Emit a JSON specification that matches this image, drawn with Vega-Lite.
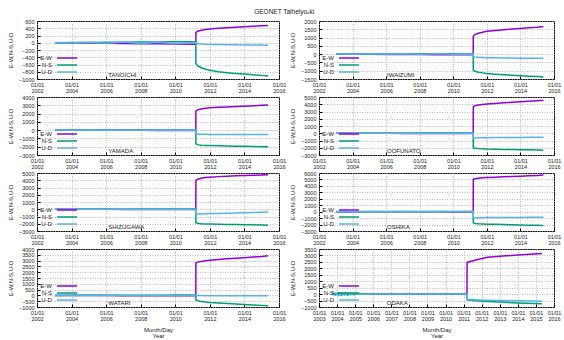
{
"$schema": "https://vega.github.io/schema/vega-lite/v6.json",
"padding": {"left": 7, "top": 9, "right": 0, "bottom": 0},
"title": {"text": "GEONET Taiheiyoₒki", "fontSize": 6.5, "fontWeight": "normal", "color": "#222", "offset": 3, "anchor": "middle"},
"datasets": {"gps": [
{"s":"TANOICHI","d":"2003-01-15","E-W":0,"N-S":0,"U-D":10},
{"s":"TANOICHI","d":"2004-01-01","E-W":-5,"N-S":5,"U-D":-10},
{"s":"TANOICHI","d":"2005-01-01","E-W":-10,"N-S":8,"U-D":15},
{"s":"TANOICHI","d":"2006-01-01","E-W":-15,"N-S":12,"U-D":-15},
{"s":"TANOICHI","d":"2007-01-01","E-W":-20,"N-S":15,"U-D":20},
{"s":"TANOICHI","d":"2008-01-01","E-W":-25,"N-S":18,"U-D":-20},
{"s":"TANOICHI","d":"2009-01-01","E-W":-30,"N-S":22,"U-D":15},
{"s":"TANOICHI","d":"2010-01-01","E-W":-35,"N-S":25,"U-D":-20},
{"s":"TANOICHI","d":"2011-03-10","E-W":-40,"N-S":28,"U-D":10},
{"s":"TANOICHI","d":"2011-03-12","E-W":280,"N-S":-570,"U-D":-20},
{"s":"TANOICHI","d":"2011-04-15","E-W":320,"N-S":-630,"U-D":-30},
{"s":"TANOICHI","d":"2011-07-01","E-W":345,"N-S":-690,"U-D":-35},
{"s":"TANOICHI","d":"2011-10-01","E-W":365,"N-S":-730,"U-D":-40},
{"s":"TANOICHI","d":"2012-01-01","E-W":380,"N-S":-760,"U-D":-45},
{"s":"TANOICHI","d":"2012-07-01","E-W":400,"N-S":-800,"U-D":-50},
{"s":"TANOICHI","d":"2013-01-01","E-W":415,"N-S":-825,"U-D":-55},
{"s":"TANOICHI","d":"2013-07-01","E-W":428,"N-S":-845,"U-D":-58},
{"s":"TANOICHI","d":"2014-01-01","E-W":440,"N-S":-865,"U-D":-60},
{"s":"TANOICHI","d":"2014-07-01","E-W":455,"N-S":-885,"U-D":-62},
{"s":"TANOICHI","d":"2015-01-01","E-W":468,"N-S":-900,"U-D":-65},
{"s":"TANOICHI","d":"2015-05-15","E-W":478,"N-S":-915,"U-D":-68},
{"s":"IWAIZUMI","d":"2003-01-15","E-W":0,"N-S":0,"U-D":20},
{"s":"IWAIZUMI","d":"2004-01-01","E-W":-5,"N-S":4,"U-D":0},
{"s":"IWAIZUMI","d":"2005-01-01","E-W":-10,"N-S":8,"U-D":25},
{"s":"IWAIZUMI","d":"2006-01-01","E-W":-15,"N-S":12,"U-D":0},
{"s":"IWAIZUMI","d":"2007-01-01","E-W":-20,"N-S":15,"U-D":25},
{"s":"IWAIZUMI","d":"2008-01-01","E-W":-25,"N-S":18,"U-D":0},
{"s":"IWAIZUMI","d":"2009-01-01","E-W":-30,"N-S":22,"U-D":20},
{"s":"IWAIZUMI","d":"2010-01-01","E-W":-35,"N-S":25,"U-D":0},
{"s":"IWAIZUMI","d":"2011-03-10","E-W":-40,"N-S":28,"U-D":15},
{"s":"IWAIZUMI","d":"2011-03-12","E-W":1080,"N-S":-960,"U-D":-150},
{"s":"IWAIZUMI","d":"2011-04-15","E-W":1180,"N-S":-1030,"U-D":-170},
{"s":"IWAIZUMI","d":"2011-07-01","E-W":1260,"N-S":-1090,"U-D":-190},
{"s":"IWAIZUMI","d":"2011-10-01","E-W":1320,"N-S":-1130,"U-D":-205},
{"s":"IWAIZUMI","d":"2012-01-01","E-W":1380,"N-S":-1170,"U-D":-215},
{"s":"IWAIZUMI","d":"2012-07-01","E-W":1430,"N-S":-1210,"U-D":-225},
{"s":"IWAIZUMI","d":"2013-01-01","E-W":1470,"N-S":-1240,"U-D":-232},
{"s":"IWAIZUMI","d":"2013-07-01","E-W":1510,"N-S":-1270,"U-D":-238},
{"s":"IWAIZUMI","d":"2014-01-01","E-W":1550,"N-S":-1300,"U-D":-242},
{"s":"IWAIZUMI","d":"2014-07-01","E-W":1590,"N-S":-1330,"U-D":-246},
{"s":"IWAIZUMI","d":"2015-01-01","E-W":1630,"N-S":-1355,"U-D":-250},
{"s":"IWAIZUMI","d":"2015-05-15","E-W":1670,"N-S":-1380,"U-D":-252},
{"s":"YAMADA","d":"2003-01-15","E-W":0,"N-S":0,"U-D":15},
{"s":"YAMADA","d":"2004-01-01","E-W":-5,"N-S":4,"U-D":-15},
{"s":"YAMADA","d":"2005-01-01","E-W":-10,"N-S":8,"U-D":15},
{"s":"YAMADA","d":"2006-01-01","E-W":-15,"N-S":12,"U-D":-15},
{"s":"YAMADA","d":"2007-01-01","E-W":-20,"N-S":15,"U-D":15},
{"s":"YAMADA","d":"2008-01-01","E-W":-25,"N-S":18,"U-D":-15},
{"s":"YAMADA","d":"2009-01-01","E-W":-30,"N-S":22,"U-D":15},
{"s":"YAMADA","d":"2010-01-01","E-W":-35,"N-S":25,"U-D":-15},
{"s":"YAMADA","d":"2011-03-10","E-W":-40,"N-S":28,"U-D":10},
{"s":"YAMADA","d":"2011-03-12","E-W":2300,"N-S":-1650,"U-D":-480},
{"s":"YAMADA","d":"2011-04-15","E-W":2450,"N-S":-1750,"U-D":-495},
{"s":"YAMADA","d":"2011-07-01","E-W":2560,"N-S":-1810,"U-D":-505},
{"s":"YAMADA","d":"2011-10-01","E-W":2630,"N-S":-1840,"U-D":-510},
{"s":"YAMADA","d":"2012-01-01","E-W":2690,"N-S":-1860,"U-D":-515},
{"s":"YAMADA","d":"2012-07-01","E-W":2750,"N-S":-1890,"U-D":-515},
{"s":"YAMADA","d":"2013-01-01","E-W":2800,"N-S":-1910,"U-D":-515},
{"s":"YAMADA","d":"2013-07-01","E-W":2850,"N-S":-1930,"U-D":-515},
{"s":"YAMADA","d":"2014-01-01","E-W":2890,"N-S":-1950,"U-D":-515},
{"s":"YAMADA","d":"2014-07-01","E-W":2940,"N-S":-1970,"U-D":-515},
{"s":"YAMADA","d":"2015-01-01","E-W":2990,"N-S":-1990,"U-D":-515},
{"s":"YAMADA","d":"2015-05-15","E-W":3040,"N-S":-2000,"U-D":-515},
{"s":"OOFUNATO","d":"2003-01-15","E-W":0,"N-S":0,"U-D":15},
{"s":"OOFUNATO","d":"2004-01-01","E-W":-5,"N-S":4,"U-D":-15},
{"s":"OOFUNATO","d":"2005-01-01","E-W":-10,"N-S":8,"U-D":15},
{"s":"OOFUNATO","d":"2006-01-01","E-W":-15,"N-S":12,"U-D":-15},
{"s":"OOFUNATO","d":"2007-01-01","E-W":-20,"N-S":15,"U-D":15},
{"s":"OOFUNATO","d":"2008-01-01","E-W":-25,"N-S":18,"U-D":-15},
{"s":"OOFUNATO","d":"2009-01-01","E-W":-30,"N-S":22,"U-D":15},
{"s":"OOFUNATO","d":"2010-01-01","E-W":-35,"N-S":25,"U-D":-15},
{"s":"OOFUNATO","d":"2011-03-10","E-W":-40,"N-S":28,"U-D":10},
{"s":"OOFUNATO","d":"2011-03-12","E-W":3640,"N-S":-1980,"U-D":-650},
{"s":"OOFUNATO","d":"2011-04-15","E-W":3800,"N-S":-2060,"U-D":-640},
{"s":"OOFUNATO","d":"2011-07-01","E-W":3900,"N-S":-2110,"U-D":-630},
{"s":"OOFUNATO","d":"2011-10-01","E-W":3970,"N-S":-2140,"U-D":-620},
{"s":"OOFUNATO","d":"2012-01-01","E-W":4030,"N-S":-2170,"U-D":-610},
{"s":"OOFUNATO","d":"2012-07-01","E-W":4120,"N-S":-2200,"U-D":-600},
{"s":"OOFUNATO","d":"2013-01-01","E-W":4200,"N-S":-2230,"U-D":-590},
{"s":"OOFUNATO","d":"2013-07-01","E-W":4270,"N-S":-2250,"U-D":-580},
{"s":"OOFUNATO","d":"2014-01-01","E-W":4340,"N-S":-2270,"U-D":-570},
{"s":"OOFUNATO","d":"2014-07-01","E-W":4410,"N-S":-2290,"U-D":-560},
{"s":"OOFUNATO","d":"2015-01-01","E-W":4480,"N-S":-2320,"U-D":-550},
{"s":"OOFUNATO","d":"2015-05-15","E-W":4540,"N-S":-2340,"U-D":-540},
{"s":"SHIZUGAWA","d":"2003-01-15","E-W":0,"N-S":0,"U-D":15},
{"s":"SHIZUGAWA","d":"2004-01-01","E-W":-5,"N-S":4,"U-D":-15},
{"s":"SHIZUGAWA","d":"2005-01-01","E-W":-10,"N-S":8,"U-D":15},
{"s":"SHIZUGAWA","d":"2006-01-01","E-W":-15,"N-S":12,"U-D":-15},
{"s":"SHIZUGAWA","d":"2007-01-01","E-W":-20,"N-S":15,"U-D":15},
{"s":"SHIZUGAWA","d":"2008-01-01","E-W":-25,"N-S":18,"U-D":-15},
{"s":"SHIZUGAWA","d":"2009-01-01","E-W":-30,"N-S":22,"U-D":15},
{"s":"SHIZUGAWA","d":"2010-01-01","E-W":-35,"N-S":25,"U-D":-15},
{"s":"SHIZUGAWA","d":"2011-03-10","E-W":-40,"N-S":28,"U-D":10},
{"s":"SHIZUGAWA","d":"2011-03-12","E-W":3980,"N-S":-1860,"U-D":-680},
{"s":"SHIZUGAWA","d":"2011-04-15","E-W":4150,"N-S":-1940,"U-D":-660},
{"s":"SHIZUGAWA","d":"2011-07-01","E-W":4280,"N-S":-1990,"U-D":-640},
{"s":"SHIZUGAWA","d":"2011-10-01","E-W":4370,"N-S":-2020,"U-D":-620},
{"s":"SHIZUGAWA","d":"2012-01-01","E-W":4430,"N-S":-2040,"U-D":-600},
{"s":"SHIZUGAWA","d":"2012-07-01","E-W":4500,"N-S":-2070,"U-D":-570},
{"s":"SHIZUGAWA","d":"2013-01-01","E-W":4560,"N-S":-2090,"U-D":-540},
{"s":"SHIZUGAWA","d":"2013-07-01","E-W":4610,"N-S":-2110,"U-D":-510},
{"s":"SHIZUGAWA","d":"2014-01-01","E-W":4650,"N-S":-2130,"U-D":-480},
{"s":"SHIZUGAWA","d":"2014-07-01","E-W":4690,"N-S":-2150,"U-D":-440},
{"s":"SHIZUGAWA","d":"2015-01-01","E-W":4720,"N-S":-2180,"U-D":-400},
{"s":"SHIZUGAWA","d":"2015-05-15","E-W":4750,"N-S":-2200,"U-D":-370},
{"s":"OSHIKA","d":"2003-01-15","E-W":0,"N-S":0,"U-D":15},
{"s":"OSHIKA","d":"2004-01-01","E-W":-5,"N-S":4,"U-D":-15},
{"s":"OSHIKA","d":"2005-01-01","E-W":-10,"N-S":8,"U-D":15},
{"s":"OSHIKA","d":"2006-01-01","E-W":-15,"N-S":12,"U-D":-15},
{"s":"OSHIKA","d":"2007-01-01","E-W":-20,"N-S":15,"U-D":15},
{"s":"OSHIKA","d":"2008-01-01","E-W":-25,"N-S":18,"U-D":-15},
{"s":"OSHIKA","d":"2009-01-01","E-W":-30,"N-S":22,"U-D":15},
{"s":"OSHIKA","d":"2010-01-01","E-W":-35,"N-S":25,"U-D":-15},
{"s":"OSHIKA","d":"2011-03-10","E-W":-40,"N-S":28,"U-D":10},
{"s":"OSHIKA","d":"2011-03-12","E-W":5000,"N-S":-1730,"U-D":-1000},
{"s":"OSHIKA","d":"2011-04-15","E-W":5120,"N-S":-1820,"U-D":-980},
{"s":"OSHIKA","d":"2011-07-01","E-W":5200,"N-S":-1880,"U-D":-960},
{"s":"OSHIKA","d":"2011-10-01","E-W":5250,"N-S":-1910,"U-D":-940},
{"s":"OSHIKA","d":"2012-01-01","E-W":5290,"N-S":-1940,"U-D":-920},
{"s":"OSHIKA","d":"2012-07-01","E-W":5350,"N-S":-1970,"U-D":-905},
{"s":"OSHIKA","d":"2013-01-01","E-W":5410,"N-S":-2000,"U-D":-900},
{"s":"OSHIKA","d":"2013-07-01","E-W":5460,"N-S":-2030,"U-D":-895},
{"s":"OSHIKA","d":"2014-01-01","E-W":5510,"N-S":-2060,"U-D":-890},
{"s":"OSHIKA","d":"2014-07-01","E-W":5560,"N-S":-2090,"U-D":-885},
{"s":"OSHIKA","d":"2015-01-01","E-W":5620,"N-S":-2120,"U-D":-880},
{"s":"OSHIKA","d":"2015-05-15","E-W":5680,"N-S":-2140,"U-D":-880},
{"s":"WATARI","d":"2003-01-15","E-W":0,"N-S":0,"U-D":15},
{"s":"WATARI","d":"2004-01-01","E-W":-5,"N-S":4,"U-D":-15},
{"s":"WATARI","d":"2005-01-01","E-W":-10,"N-S":8,"U-D":15},
{"s":"WATARI","d":"2006-01-01","E-W":-15,"N-S":12,"U-D":-15},
{"s":"WATARI","d":"2007-01-01","E-W":-20,"N-S":15,"U-D":15},
{"s":"WATARI","d":"2008-01-01","E-W":-25,"N-S":18,"U-D":-15},
{"s":"WATARI","d":"2009-01-01","E-W":-30,"N-S":22,"U-D":15},
{"s":"WATARI","d":"2010-01-01","E-W":-35,"N-S":25,"U-D":-15},
{"s":"WATARI","d":"2011-03-10","E-W":-40,"N-S":28,"U-D":10},
{"s":"WATARI","d":"2011-03-12","E-W":2800,"N-S":-370,"U-D":0},
{"s":"WATARI","d":"2011-04-15","E-W":2870,"N-S":-450,"U-D":-10},
{"s":"WATARI","d":"2011-07-01","E-W":2930,"N-S":-520,"U-D":-15},
{"s":"WATARI","d":"2011-10-01","E-W":2980,"N-S":-570,"U-D":-20},
{"s":"WATARI","d":"2012-01-01","E-W":3030,"N-S":-610,"U-D":-20},
{"s":"WATARI","d":"2012-07-01","E-W":3090,"N-S":-660,"U-D":-22},
{"s":"WATARI","d":"2013-01-01","E-W":3150,"N-S":-700,"U-D":-22},
{"s":"WATARI","d":"2013-07-01","E-W":3200,"N-S":-740,"U-D":-24},
{"s":"WATARI","d":"2014-01-01","E-W":3250,"N-S":-780,"U-D":-24},
{"s":"WATARI","d":"2014-07-01","E-W":3300,"N-S":-820,"U-D":-25},
{"s":"WATARI","d":"2015-01-01","E-W":3360,"N-S":-860,"U-D":-25},
{"s":"WATARI","d":"2015-05-15","E-W":3420,"N-S":-890,"U-D":-25},
{"s":"ODAKA","d":"2003-10-01","E-W":40,"N-S":120,"U-D":-100},
{"s":"ODAKA","d":"2003-12-01","E-W":30,"N-S":-80,"U-D":90},
{"s":"ODAKA","d":"2004-02-01","E-W":40,"N-S":100,"U-D":-120},
{"s":"ODAKA","d":"2004-04-01","E-W":20,"N-S":-90,"U-D":80},
{"s":"ODAKA","d":"2004-06-01","E-W":30,"N-S":90,"U-D":-90},
{"s":"ODAKA","d":"2004-08-01","E-W":20,"N-S":-70,"U-D":100},
{"s":"ODAKA","d":"2004-10-01","E-W":30,"N-S":60,"U-D":-60},
{"s":"ODAKA","d":"2004-12-01","E-W":20,"N-S":-50,"U-D":50},
{"s":"ODAKA","d":"2005-03-01","E-W":10,"N-S":20,"U-D":-20},
{"s":"ODAKA","d":"2006-01-01","E-W":10,"N-S":10,"U-D":0},
{"s":"ODAKA","d":"2007-01-01","E-W":5,"N-S":0,"U-D":10},
{"s":"ODAKA","d":"2008-01-01","E-W":0,"N-S":-5,"U-D":0},
{"s":"ODAKA","d":"2009-01-01","E-W":-5,"N-S":0,"U-D":5},
{"s":"ODAKA","d":"2010-01-01","E-W":-10,"N-S":5,"U-D":0},
{"s":"ODAKA","d":"2011-03-10","E-W":-15,"N-S":10,"U-D":0},
{"s":"ODAKA","d":"2011-03-12","E-W":2460,"N-S":-450,"U-D":-400},
{"s":"ODAKA","d":"2011-09-01","E-W":2650,"N-S":-520,"U-D":-440},
{"s":"ODAKA","d":"2012-05-01","E-W":2860,"N-S":-580,"U-D":-470},
{"s":"ODAKA","d":"2013-01-01","E-W":2940,"N-S":-620,"U-D":-490},
{"s":"ODAKA","d":"2014-01-01","E-W":3040,"N-S":-680,"U-D":-520},
{"s":"ODAKA","d":"2015-05-01","E-W":3160,"N-S":-740,"U-D":-550}
]},
"concat": [
{"width": 242, "height": 58, "layer": [
 {"data": {"name": "gps"}, "transform": [{"filter": "datum.s === 'TANOICHI'"}, {"fold": ["E-W", "N-S", "U-D"], "as": ["comp", "val"]}],
  "mark": {"type": "line", "strokeWidth": 1.5},
  "encoding": {
   "x": {"field": "d", "type": "temporal", "scale": {"domain": ["2002-01-01", "2016-01-01"]}, "axis": {"tickCount": {"interval": "year", "step": 2}, "title": null}},
   "y": {"field": "val", "type": "quantitative", "scale": {"domain": [-1000, 600], "nice": false}, "axis": {"values": [-1000, -800, -600, -400, -200, 0, 200, 400, 600], "title": "E-W,N-S,U-D", "labelOverlap": false, "grid": true}},
   "color": {"field": "comp", "type": "nominal", "scale": {"domain": ["E-W", "N-S", "U-D"], "range": ["#9400D3", "#009E73", "#56B4E9"]}, "legend": {"title": null, "orient": "bottom-left", "symbolType": "M6.5,0H16.5"}}}},
 {"data": {"values": [{}]}, "mark": {"type": "text", "text": "TANOICHI"}, "encoding": {"x": {"datum": {"year": 2006, "month": 2, "date": 15}}, "y": {"datum": -1000, "axis": {"values": [-1000, -800, -600, -400, -200, 0, 200, 400, 600], "title": "E-W,N-S,U-D", "labelOverlap": false, "grid": true}}}}
]},
{"width": 235, "height": 58, "layer": [
 {"data": {"name": "gps"}, "transform": [{"filter": "datum.s === 'IWAIZUMI'"}, {"fold": ["E-W", "N-S", "U-D"], "as": ["comp", "val"]}],
  "mark": {"type": "line", "strokeWidth": 1.5},
  "encoding": {
   "x": {"field": "d", "type": "temporal", "scale": {"domain": ["2002-01-01", "2016-01-01"]}, "axis": {"tickCount": {"interval": "year", "step": 2}, "title": null}},
   "y": {"field": "val", "type": "quantitative", "scale": {"domain": [-1500, 2000], "nice": false}, "axis": {"values": [-1500, -1000, -500, 0, 500, 1000, 1500, 2000], "title": "E-W,N-S,U-D", "labelOverlap": false, "grid": true}},
   "color": {"field": "comp", "type": "nominal", "scale": {"domain": ["E-W", "N-S", "U-D"], "range": ["#9400D3", "#009E73", "#56B4E9"]}, "legend": {"title": null, "orient": "bottom-left", "symbolType": "M6.5,0H16.5"}}}},
 {"data": {"values": [{}]}, "mark": {"type": "text", "text": "IWAIZUMI"}, "encoding": {"x": {"datum": {"year": 2006, "month": 1, "date": 20}}, "y": {"datum": -1500, "axis": {"values": [-1500, -1000, -500, 0, 500, 1000, 1500, 2000], "title": "E-W,N-S,U-D", "labelOverlap": false, "grid": true}}}}
]},
{"width": 242, "height": 58, "layer": [
 {"data": {"name": "gps"}, "transform": [{"filter": "datum.s === 'YAMADA'"}, {"fold": ["E-W", "N-S", "U-D"], "as": ["comp", "val"]}],
  "mark": {"type": "line", "strokeWidth": 1.5},
  "encoding": {
   "x": {"field": "d", "type": "temporal", "scale": {"domain": ["2002-01-01", "2016-01-01"]}, "axis": {"tickCount": {"interval": "year", "step": 2}, "title": null}},
   "y": {"field": "val", "type": "quantitative", "scale": {"domain": [-3000, 4000], "nice": false}, "axis": {"values": [-3000, -2000, -1000, 0, 1000, 2000, 3000, 4000], "title": "E-W,N-S,U-D", "labelOverlap": false, "grid": true}},
   "color": {"field": "comp", "type": "nominal", "scale": {"domain": ["E-W", "N-S", "U-D"], "range": ["#9400D3", "#009E73", "#56B4E9"]}, "legend": {"title": null, "orient": "bottom-left", "symbolType": "M6.5,0H16.5"}}}},
 {"data": {"values": [{}]}, "mark": {"type": "text", "text": "YAMADA"}, "encoding": {"x": {"datum": {"year": 2006, "month": 2, "date": 15}}, "y": {"datum": -3000, "axis": {"values": [-3000, -2000, -1000, 0, 1000, 2000, 3000, 4000], "title": "E-W,N-S,U-D", "labelOverlap": false, "grid": true}}}}
]},
{"width": 235, "height": 58, "layer": [
 {"data": {"name": "gps"}, "transform": [{"filter": "datum.s === 'OOFUNATO'"}, {"fold": ["E-W", "N-S", "U-D"], "as": ["comp", "val"]}],
  "mark": {"type": "line", "strokeWidth": 1.5},
  "encoding": {
   "x": {"field": "d", "type": "temporal", "scale": {"domain": ["2002-01-01", "2016-01-01"]}, "axis": {"tickCount": {"interval": "year", "step": 2}, "title": null}},
   "y": {"field": "val", "type": "quantitative", "scale": {"domain": [-3000, 5000], "nice": false}, "axis": {"values": [-3000, -2000, -1000, 0, 1000, 2000, 3000, 4000, 5000], "title": "E-W,N-S,U-D", "labelOverlap": false, "grid": true}},
   "color": {"field": "comp", "type": "nominal", "scale": {"domain": ["E-W", "N-S", "U-D"], "range": ["#9400D3", "#009E73", "#56B4E9"]}, "legend": {"title": null, "orient": "bottom-left", "symbolType": "M6.5,0H16.5"}}}},
 {"data": {"values": [{}]}, "mark": {"type": "text", "text": "OOFUNATO"}, "encoding": {"x": {"datum": {"year": 2006, "month": 1, "date": 20}}, "y": {"datum": -3000, "axis": {"values": [-3000, -2000, -1000, 0, 1000, 2000, 3000, 4000, 5000], "title": "E-W,N-S,U-D", "labelOverlap": false, "grid": true}}}}
]},
{"width": 242, "height": 58, "layer": [
 {"data": {"name": "gps"}, "transform": [{"filter": "datum.s === 'SHIZUGAWA'"}, {"fold": ["E-W", "N-S", "U-D"], "as": ["comp", "val"]}],
  "mark": {"type": "line", "strokeWidth": 1.5},
  "encoding": {
   "x": {"field": "d", "type": "temporal", "scale": {"domain": ["2002-01-01", "2016-01-01"]}, "axis": {"tickCount": {"interval": "year", "step": 2}, "title": null}},
   "y": {"field": "val", "type": "quantitative", "scale": {"domain": [-3000, 5000], "nice": false}, "axis": {"values": [-3000, -2000, -1000, 0, 1000, 2000, 3000, 4000, 5000], "title": "E-W,N-S,U-D", "labelOverlap": false, "grid": true}},
   "color": {"field": "comp", "type": "nominal", "scale": {"domain": ["E-W", "N-S", "U-D"], "range": ["#9400D3", "#009E73", "#56B4E9"]}, "legend": {"title": null, "orient": "bottom-left", "symbolType": "M6.5,0H16.5"}}}},
 {"data": {"values": [{}]}, "mark": {"type": "text", "text": "SHIZUGAWA"}, "encoding": {"x": {"datum": {"year": 2006, "month": 2, "date": 15}}, "y": {"datum": -3000, "axis": {"values": [-3000, -2000, -1000, 0, 1000, 2000, 3000, 4000, 5000], "title": "E-W,N-S,U-D", "labelOverlap": false, "grid": true}}}}
]},
{"width": 235, "height": 58, "layer": [
 {"data": {"name": "gps"}, "transform": [{"filter": "datum.s === 'OSHIKA'"}, {"fold": ["E-W", "N-S", "U-D"], "as": ["comp", "val"]}],
  "mark": {"type": "line", "strokeWidth": 1.5},
  "encoding": {
   "x": {"field": "d", "type": "temporal", "scale": {"domain": ["2002-01-01", "2016-01-01"]}, "axis": {"tickCount": {"interval": "year", "step": 2}, "title": null}},
   "y": {"field": "val", "type": "quantitative", "scale": {"domain": [-3000, 6000], "nice": false}, "axis": {"values": [-3000, -2000, -1000, 0, 1000, 2000, 3000, 4000, 5000, 6000], "title": "E-W,N-S,U-D", "labelOverlap": false, "grid": true}},
   "color": {"field": "comp", "type": "nominal", "scale": {"domain": ["E-W", "N-S", "U-D"], "range": ["#9400D3", "#009E73", "#56B4E9"]}, "legend": {"title": null, "orient": "bottom-left", "symbolType": "M6.5,0H16.5"}}}},
 {"data": {"values": [{}]}, "mark": {"type": "text", "text": "OSHIKA"}, "encoding": {"x": {"datum": {"year": 2006, "month": 1, "date": 20}}, "y": {"datum": -3000, "axis": {"values": [-3000, -2000, -1000, 0, 1000, 2000, 3000, 4000, 5000, 6000], "title": "E-W,N-S,U-D", "labelOverlap": false, "grid": true}}}}
]},
{"width": 242, "height": 58, "layer": [
 {"data": {"name": "gps"}, "transform": [{"filter": "datum.s === 'WATARI'"}, {"fold": ["E-W", "N-S", "U-D"], "as": ["comp", "val"]}],
  "mark": {"type": "line", "strokeWidth": 1.5},
  "encoding": {
   "x": {"field": "d", "type": "temporal", "scale": {"domain": ["2002-01-01", "2016-01-01"]}, "axis": {"tickCount": {"interval": "year", "step": 2}, "title": ["Month/Day", "Year"]}},
   "y": {"field": "val", "type": "quantitative", "scale": {"domain": [-1000, 4000], "nice": false}, "axis": {"values": [-1000, -500, 0, 500, 1000, 1500, 2000, 2500, 3000, 3500, 4000], "title": "E-W,N-S,U-D", "labelOverlap": false, "grid": true}},
   "color": {"field": "comp", "type": "nominal", "scale": {"domain": ["E-W", "N-S", "U-D"], "range": ["#9400D3", "#009E73", "#56B4E9"]}, "legend": {"title": null, "orient": "bottom-left", "symbolType": "M6.5,0H16.5"}}}},
 {"data": {"values": [{}]}, "mark": {"type": "text", "text": "WATARI"}, "encoding": {"x": {"datum": {"year": 2006, "month": 2, "date": 15}}, "y": {"datum": -1000, "axis": {"values": [-1000, -500, 0, 500, 1000, 1500, 2000, 2500, 3000, 3500, 4000], "title": "E-W,N-S,U-D", "labelOverlap": false, "grid": true}}}}
]},
{"width": 235, "height": 58, "layer": [
 {"data": {"name": "gps"}, "transform": [{"filter": "datum.s === 'ODAKA'"}, {"fold": ["E-W", "N-S", "U-D"], "as": ["comp", "val"]}],
  "mark": {"type": "line", "strokeWidth": 1.5},
  "encoding": {
   "x": {"field": "d", "type": "temporal", "scale": {"domain": ["2003-01-01", "2016-01-01"]}, "axis": {"tickCount": {"interval": "year", "step": 1}, "title": ["Month/Day", "Year"]}},
   "y": {"field": "val", "type": "quantitative", "scale": {"domain": [-1000, 3500], "nice": false}, "axis": {"values": [-1000, -500, 0, 500, 1000, 1500, 2000, 2500, 3000, 3500], "title": "E-W,N-S,U-D", "labelOverlap": false, "grid": true}},
   "color": {"field": "comp", "type": "nominal", "scale": {"domain": ["E-W", "N-S", "U-D"], "range": ["#9400D3", "#009E73", "#56B4E9"]}, "legend": {"title": null, "orient": "bottom-left", "symbolType": "M6.5,0H16.5"}}}},
 {"data": {"values": [{}]}, "mark": {"type": "text", "text": "ODAKA"}, "encoding": {"x": {"datum": {"year": 2006, "month": 10, "date": 1}}, "y": {"datum": -1000, "axis": {"values": [-1000, -500, 0, 500, 1000, 1500, 2000, 2500, 3000, 3500], "title": "E-W,N-S,U-D", "labelOverlap": false, "grid": true}}}}
]}
],
"columns": 2,
"spacing": {"row": 18, "column": 40},
"bounds": "flush",
"resolve": {"scale": {"x": "independent", "y": "independent", "color": "independent"}, "legend": {"color": "independent"}},
"config": {
 "font": "Liberation Sans",
 "view": {"stroke": "#000", "strokeWidth": 1},
 "axis": {"labelFontSize": 5.5, "labelColor": "#222", "titleFontSize": 6, "titleFontWeight": "normal", "titleColor": "#222", "domain": false, "tickColor": "#000", "tickSize": -3, "labelPadding": 6, "labelOverlap": false, "labelFlush": false, "gridColor": "#aaa", "gridDash": [1, 1.5], "gridWidth": 0.8, "titlePadding": 5},
 "axisY": {"format": "d"},
 "axisX": {"labelExpr": "[timeFormat(datum.value, '%m/%d'), timeFormat(datum.value, '%Y')]", "labelLineHeight": 6, "titleLineHeight": 6, "titlePadding": 5},
 "legend": {"symbolSize": 16, "symbolStrokeWidth": 1.5, "labelAlign": "right", "labelOffset": 5, "labelFontSize": 6, "labelColor": "#222", "rowPadding": 1, "padding": 0, "offset": 4},
 "text": {"align": "left", "baseline": "bottom", "dy": -1, "fontSize": 6, "color": "#222"}
}
}
